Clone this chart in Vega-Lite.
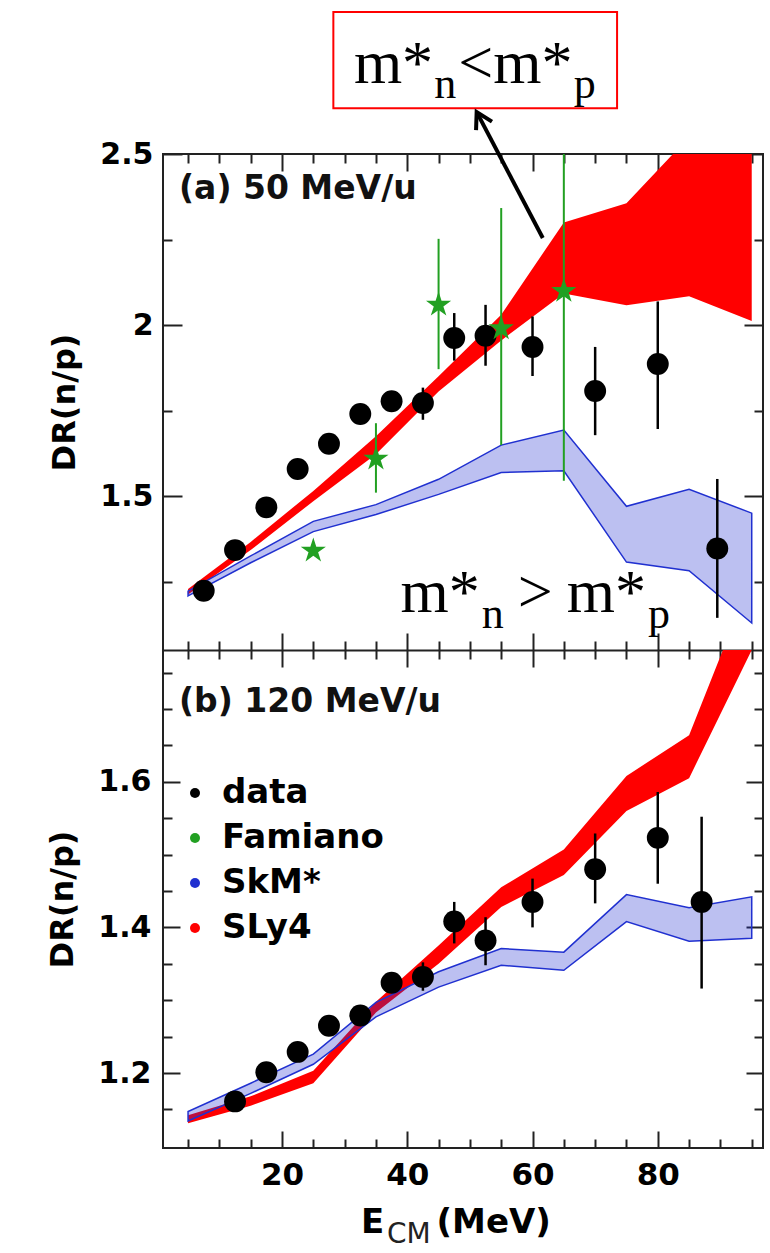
{
  "$schema": "https://vega.github.io/schema/vega-lite/v6.json",
  "background": "white",
  "autosize": {"type": "none"},
  "padding": {"left": 163, "top": 154, "right": 7, "bottom": 105},
  "width": 600,
  "height": 994,
  "config": {
    "view": {"stroke": "#222222", "strokeWidth": 2},
    "axis": {
      "domain": false, "grid": false, "tickColor": "#222222", "tickWidth": 2,
      "labelFont": "DejaVu Sans", "labelFontWeight": "bold", "labelFontSize": 30, "labelColor": "black",
      "labelOverlap": false, "labelFlush": false, "labelBound": false,
      "titleFont": "DejaVu Sans", "titleFontWeight": "bold", "titleFontSize": 32, "titleColor": "black"
    },
    "text": {"font": "DejaVu Sans"}
  },
  "datasets": {
    "dots50": [
      {"e": 7.5, "dr": 1.223, "lo": 1.213, "hi": 1.233},
      {"e": 12.5, "dr": 1.342, "lo": 1.332, "hi": 1.352},
      {"e": 17.5, "dr": 1.467, "lo": 1.455, "hi": 1.479},
      {"e": 22.5, "dr": 1.579, "lo": 1.566, "hi": 1.592},
      {"e": 27.5, "dr": 1.653, "lo": 1.64, "hi": 1.666},
      {"e": 32.5, "dr": 1.74, "lo": 1.726, "hi": 1.754},
      {"e": 37.5, "dr": 1.777, "lo": 1.746, "hi": 1.807},
      {"e": 42.5, "dr": 1.772, "lo": 1.723, "hi": 1.817},
      {"e": 47.5, "dr": 1.962, "lo": 1.896, "hi": 2.035},
      {"e": 52.5, "dr": 1.969, "lo": 1.881, "hi": 2.059},
      {"e": 60, "dr": 1.936, "lo": 1.851, "hi": 2.025},
      {"e": 70, "dr": 1.807, "lo": 1.678, "hi": 1.936},
      {"e": 80, "dr": 1.886, "lo": 1.696, "hi": 2.069},
      {"e": 89.5, "dr": 1.347, "lo": 1.144, "hi": 1.55}
    ],
    "fam50": [
      {"e": 25, "dr": 1.34, "lo": 1.33, "hi": 1.35},
      {"e": 35, "dr": 1.609, "lo": 1.51, "hi": 1.713},
      {"e": 45, "dr": 2.059, "lo": 1.871, "hi": 2.252},
      {"e": 55, "dr": 1.99, "lo": 1.649, "hi": 2.342},
      {"e": 65, "dr": 2.099, "lo": 1.545, "hi": 2.65}
    ],
    "sly50": [
      {"e": 5, "lo": 1.212, "hi": 1.228},
      {"e": 15, "lo": 1.342, "hi": 1.366},
      {"e": 25, "lo": 1.485, "hi": 1.515},
      {"e": 35, "lo": 1.622, "hi": 1.675},
      {"e": 45, "lo": 1.806, "hi": 1.85},
      {"e": 55, "lo": 1.955, "hi": 2.03},
      {"e": 65, "lo": 2.092, "hi": 2.3},
      {"e": 75, "lo": 2.058, "hi": 2.356},
      {"e": 85, "lo": 2.084, "hi": 2.55},
      {"e": 95, "lo": 2.012, "hi": 2.7}
    ],
    "skm50": [
      {"e": 5, "lo": 1.208, "hi": 1.222},
      {"e": 15, "lo": 1.305, "hi": 1.325},
      {"e": 25, "lo": 1.396, "hi": 1.426},
      {"e": 35, "lo": 1.446, "hi": 1.475},
      {"e": 45, "lo": 1.505, "hi": 1.549},
      {"e": 55, "lo": 1.569, "hi": 1.649},
      {"e": 65, "lo": 1.574, "hi": 1.693},
      {"e": 75, "lo": 1.307, "hi": 1.47},
      {"e": 85, "lo": 1.282, "hi": 1.52},
      {"e": 95, "lo": 1.129, "hi": 1.45}
    ],
    "dots120": [
      {"e": 12.5, "dr": 1.161, "lo": 1.155, "hi": 1.167},
      {"e": 17.5, "dr": 1.201, "lo": 1.195, "hi": 1.207},
      {"e": 22.5, "dr": 1.229, "lo": 1.223, "hi": 1.235},
      {"e": 27.5, "dr": 1.265, "lo": 1.259, "hi": 1.271},
      {"e": 32.5, "dr": 1.279, "lo": 1.273, "hi": 1.285},
      {"e": 37.5, "dr": 1.324, "lo": 1.31, "hi": 1.338},
      {"e": 42.5, "dr": 1.332, "lo": 1.313, "hi": 1.352},
      {"e": 47.5, "dr": 1.408, "lo": 1.378, "hi": 1.435},
      {"e": 52.5, "dr": 1.382, "lo": 1.348, "hi": 1.414},
      {"e": 60, "dr": 1.435, "lo": 1.4, "hi": 1.467},
      {"e": 70, "dr": 1.48, "lo": 1.433, "hi": 1.529},
      {"e": 80, "dr": 1.523, "lo": 1.46, "hi": 1.586},
      {"e": 87, "dr": 1.435, "lo": 1.316, "hi": 1.552}
    ],
    "sly120": [
      {"e": 5, "lo": 1.131, "hi": 1.142},
      {"e": 15, "lo": 1.155, "hi": 1.168},
      {"e": 25, "lo": 1.186, "hi": 1.203},
      {"e": 35, "lo": 1.283, "hi": 1.298},
      {"e": 45, "lo": 1.35, "hi": 1.375},
      {"e": 55, "lo": 1.428, "hi": 1.455},
      {"e": 65, "lo": 1.472, "hi": 1.507},
      {"e": 75, "lo": 1.56, "hi": 1.608},
      {"e": 85, "lo": 1.605, "hi": 1.664},
      {"e": 90.4, "lo": 1.7, "hi": 1.781},
      {"e": 95, "lo": 1.781, "hi": 1.781}
    ],
    "skm120": [
      {"e": 5, "lo": 1.134, "hi": 1.147},
      {"e": 15, "lo": 1.172, "hi": 1.186},
      {"e": 25, "lo": 1.212, "hi": 1.226},
      {"e": 35, "lo": 1.277, "hi": 1.297},
      {"e": 45, "lo": 1.318, "hi": 1.339},
      {"e": 55, "lo": 1.348, "hi": 1.371},
      {"e": 65, "lo": 1.341, "hi": 1.366},
      {"e": 75, "lo": 1.408, "hi": 1.445},
      {"e": 85, "lo": 1.381, "hi": 1.427},
      {"e": 95, "lo": 1.385, "hi": 1.442}
    ]
  },
  "resolve": {"scale": {"y": "independent"}, "axis": {"x": "independent", "y": "independent"}},
  "layer": [
    {
      "data": {"name": "sly50"},
      "mark": {"type": "area", "color": "#ff0000", "clip": true},
      "encoding": {
        "x": {"field": "e", "type": "quantitative",
          "scale": {"domain": [1, 96.8], "nice": false, "zero": false},
          "axis": {"orient": "bottom", "offset": -498, "values": [20, 40, 60, 80], "labels": false, "title": null, "tickSize": -17,
            "domain": true, "domainColor": "#222222", "domainWidth": 2}},
        "y": {"field": "lo", "type": "quantitative",
          "scale": {"domain": [1.05, 2.5], "range": [496, 0], "nice": false, "zero": false},
          "axis": {"orient": "left", "values": [1.5, 2, 2.5], "format": "~g", "labelPadding": 29, "tickSize": -19,
            "title": "DR(n/p)", "titlePadding": 18}},
        "y2": {"field": "hi"}
      }
    },
    {
      "data": {"name": "skm50"},
      "mark": {"type": "area", "fill": "#2030d0", "fillOpacity": 0.3, "stroke": "#2030d0", "strokeWidth": 1.5, "clip": true},
      "encoding": {
        "x": {"field": "e", "type": "quantitative",
          "axis": {"orient": "top", "values": [20, 40, 60, 80], "labels": false, "title": null, "tickSize": -17}},
        "y": {"field": "lo", "type": "quantitative",
          "scale": {"domain": [1.05, 2.5], "range": [496, 0], "nice": false, "zero": false},
          "axis": {"orient": "right", "values": [1.5, 2, 2.5], "labels": false, "title": null, "tickSize": -19}},
        "y2": {"field": "hi"}
      }
    },
    {
      "data": {"name": "dots50"},
      "mark": {"type": "rule", "color": "black", "strokeWidth": 2.5, "clip": true},
      "encoding": {
        "x": {"field": "e", "type": "quantitative",
          "axis": {"orient": "bottom", "offset": -498, "values": [5,10,15,25,30,35,45,50,55,65,70,75,85,90,95], "labels": false, "title": null, "tickSize": -9}},
        "y": {"field": "lo", "type": "quantitative",
          "scale": {"domain": [1.05, 2.5], "range": [496, 0], "nice": false, "zero": false},
          "axis": {"orient": "left", "values": [1.25, 1.75, 2.25], "labels": false, "title": null, "tickSize": -9}},
        "y2": {"field": "hi"}
      }
    },
    {
      "data": {"name": "dots50"},
      "mark": {"type": "point", "shape": "circle", "filled": true, "color": "black", "opacity": 1, "size": 480},
      "encoding": {
        "x": {"field": "e", "type": "quantitative",
          "axis": {"orient": "top", "values": [5,10,15,25,30,35,45,50,55,65,70,75,85,90,95], "labels": false, "title": null, "tickSize": -9}},
        "y": {"field": "dr", "type": "quantitative",
          "scale": {"domain": [1.05, 2.5], "range": [496, 0], "nice": false, "zero": false},
          "axis": {"orient": "right", "values": [1.25, 1.75, 2.25], "labels": false, "title": null, "tickSize": -9}}
      }
    },
    {
      "data": {"name": "sly120"},
      "mark": {"type": "area", "color": "#ff0000", "clip": true},
      "encoding": {
        "x": {"field": "e", "type": "quantitative",
          "axis": {"orient": "bottom", "values": [20, 40, 60, 80], "labelFontSize": 31, "labelPadding": 29, "title": null, "tickSize": -17}},
        "y": {"field": "lo", "type": "quantitative",
          "scale": {"domain": [1.097, 1.781], "range": [994, 496], "nice": false, "zero": false},
          "axis": {"orient": "left", "values": [1.2, 1.4, 1.6], "format": "~g", "labelPadding": 29, "tickSize": -17,
            "title": "DR(n/p)", "titlePadding": 18}},
        "y2": {"field": "hi"}
      }
    },
    {
      "data": {"name": "skm120"},
      "mark": {"type": "area", "fill": "#2030d0", "fillOpacity": 0.3, "stroke": "#2030d0", "strokeWidth": 1.5, "clip": true},
      "encoding": {
        "x": {"field": "e", "type": "quantitative",
          "axis": {"orient": "top", "offset": -496, "values": [20, 40, 60, 80], "labels": false, "title": null, "tickSize": -17}},
        "y": {"field": "lo", "type": "quantitative",
          "scale": {"domain": [1.097, 1.781], "range": [994, 496], "nice": false, "zero": false},
          "axis": {"orient": "right", "values": [1.2, 1.4, 1.6], "labels": false, "title": null, "tickSize": -17}},
        "y2": {"field": "hi"}
      }
    },
    {
      "data": {"name": "dots120"},
      "mark": {"type": "rule", "color": "black", "strokeWidth": 2.5, "clip": true},
      "encoding": {
        "x": {"field": "e", "type": "quantitative",
          "axis": {"orient": "bottom", "values": [5,10,15,25,30,35,45,50,55,65,70,75,85,90,95], "labels": false, "title": null, "tickSize": -9}},
        "y": {"field": "lo", "type": "quantitative",
          "scale": {"domain": [1.097, 1.781], "range": [994, 496], "nice": false, "zero": false},
          "axis": {"orient": "left", "values": [1.15,1.25,1.3,1.35,1.45,1.5,1.55,1.65,1.7,1.75], "labels": false, "title": null, "tickSize": -9}},
        "y2": {"field": "hi"}
      }
    },
    {
      "data": {"name": "dots120"},
      "mark": {"type": "point", "shape": "circle", "filled": true, "opacity": 1, "size": 480},
      "encoding": {
        "x": {"field": "e", "type": "quantitative",
          "axis": {"orient": "top", "offset": -496, "values": [5,10,15,25,30,35,45,50,55,65,70,75,85,90,95], "labels": false, "title": null, "tickSize": -9}},
        "y": {"field": "dr", "type": "quantitative",
          "scale": {"domain": [1.097, 1.781], "range": [994, 496], "nice": false, "zero": false},
          "axis": {"orient": "right", "values": [1.15,1.25,1.3,1.35,1.45,1.5,1.55,1.65,1.7,1.75], "labels": false, "title": null, "tickSize": -9}},
        "color": {"datum": "data", "type": "nominal",
          "scale": {"domain": ["data", "Famiano", "SkM*", "SLy4"], "range": ["#000000", "#22a022", "#2030d0", "#ff0000"]},
          "legend": {
            "title": null, "orient": "none", "legendX": 15, "legendY": 622, "direction": "vertical",
            "labelFont": "DejaVu Sans", "labelFontWeight": "bold", "labelFontSize": 34, "labelColor": "black",
            "labelLimit": 0, "labelOffset": 10, "rowPadding": 11, "symbolStrokeWidth": 2,
            "encode": {
              "symbols": {"update": {
                "shape": {"signal": "datum.value === 'Famiano' ? 'M0,-1L0.2245,-0.309L0.951,-0.309L0.363,0.118L0.588,0.809L0,0.382L-0.588,0.809L-0.363,0.118L-0.951,-0.309L-0.2245,-0.309Z' : datum.value === 'data' ? 'circle' : 'square'"},
                "size": {"signal": "datum.value === 'data' ? 520 : datum.value === 'Famiano' ? 620 : 760"},
                "fill": {"signal": "datum.value === 'data' ? '#000000' : datum.value === 'Famiano' ? '#22a022' : datum.value === 'SkM*' ? '#b9bdee' : '#ff0000'"},
                "stroke": {"signal": "datum.value === 'SkM*' ? '#2030d0' : 'transparent'"},
                "opacity": {"value": 1},
                "fillOpacity": {"value": 1}
              }}
            }
          }}
      }
    },
    {
      "data": {"name": "fam50"},
      "mark": {"type": "rule", "color": "#22a022", "strokeWidth": 2, "clip": true},
      "encoding": {
        "x": {"field": "e", "type": "quantitative", "axis": null},
        "y": {"field": "lo", "type": "quantitative", "scale": {"domain": [1.05, 2.5], "range": [496, 0], "nice": false, "zero": false}, "axis": null},
        "y2": {"field": "hi"}
      }
    },
    {
      "data": {"name": "fam50"},
      "mark": {"type": "point", "shape": "M0,-1L0.2245,-0.309L0.951,-0.309L0.363,0.118L0.588,0.809L0,0.382L-0.588,0.809L-0.363,0.118L-0.951,-0.309L-0.2245,-0.309Z", "filled": true, "color": "#22a022", "opacity": 1, "size": 700},
      "encoding": {
        "x": {"field": "e", "type": "quantitative", "axis": null},
        "y": {"field": "dr", "type": "quantitative", "scale": {"domain": [1.05, 2.5], "range": [496, 0], "nice": false, "zero": false}, "axis": null}
      }
    },
    {
      "data": {"values": [{}]},
      "mark": {"type": "text", "text": "(a) 50 MeV/u", "font": "DejaVu Sans", "fontWeight": "bold", "fontSize": 33, "align": "left", "baseline": "alphabetic", "color": "#111111"},
      "encoding": {
        "x": {"datum": 3.56, "type": "quantitative", "axis": null},
        "y": {"datum": 2.367, "type": "quantitative", "scale": {"domain": [1.05, 2.5], "range": [496, 0], "nice": false, "zero": false}, "axis": null}
      }
    },
    {
      "data": {"values": [{}]},
      "mark": {"type": "rect", "fillOpacity": 0, "stroke": "#ff0000", "strokeWidth": 2},
      "encoding": {
        "x": {"datum": 28.2, "type": "quantitative", "axis": null},
        "x2": {"datum": 73.5},
        "y": {"datum": 2.634, "type": "quantitative", "scale": {"domain": [1.05, 2.5], "range": [496, 0], "nice": false, "zero": false}, "axis": null},
        "y2": {"datum": 2.915}
      }
    },
    {
      "data": {"values": [{}]},
      "mark": {"type": "text", "text": "m*", "font": "Liberation Serif", "fontSize": 62, "align": "left", "baseline": "alphabetic", "color": "black"},
      "encoding": {
        "x": {"datum": 31.48, "type": "quantitative", "axis": null},
        "y": {"datum": 2.7076, "type": "quantitative", "scale": {"domain": [1.05, 2.5], "range": [496, 0], "nice": false, "zero": false}, "axis": null}
      }
    },
    {
      "data": {"values": [{}]},
      "mark": {"type": "text", "text": "n", "font": "Liberation Serif", "fontSize": 44, "align": "left", "baseline": "alphabetic", "color": "black"},
      "encoding": {
        "x": {"datum": 44.31, "type": "quantitative", "axis": null},
        "y": {"datum": 2.6637, "type": "quantitative", "scale": {"domain": [1.05, 2.5], "range": [496, 0], "nice": false, "zero": false}, "axis": null}
      }
    },
    {
      "data": {"values": [{}]},
      "mark": {"type": "text", "text": "<m*", "font": "Liberation Serif", "fontSize": 62, "align": "left", "baseline": "alphabetic", "color": "black"},
      "encoding": {
        "x": {"datum": 48.15, "type": "quantitative", "axis": null},
        "y": {"datum": 2.7076, "type": "quantitative", "scale": {"domain": [1.05, 2.5], "range": [496, 0], "nice": false, "zero": false}, "axis": null}
      }
    },
    {
      "data": {"values": [{}]},
      "mark": {"type": "text", "text": "p", "font": "Liberation Serif", "fontSize": 44, "align": "left", "baseline": "alphabetic", "color": "black"},
      "encoding": {
        "x": {"datum": 66.58, "type": "quantitative", "axis": null},
        "y": {"datum": 2.6637, "type": "quantitative", "scale": {"domain": [1.05, 2.5], "range": [496, 0], "nice": false, "zero": false}, "axis": null}
      }
    },
    {
      "data": {"values": [{}]},
      "mark": {"type": "rule", "color": "black", "strokeWidth": 4},
      "encoding": {
        "x": {"datum": 61.64, "type": "quantitative", "axis": null},
        "x2": {"datum": 51.3},
        "y": {"datum": 2.2544, "type": "quantitative", "scale": {"domain": [1.05, 2.5], "range": [496, 0], "nice": false, "zero": false}, "axis": null},
        "y2": {"datum": 2.615}
      }
    },
    {
      "data": {"values": [{}]},
      "mark": {"type": "point", "shape": "M -0.5 0.87 L 0 0 L 0.5 0.87", "filled": false, "stroke": "black", "strokeWidth": 4, "opacity": 1, "size": 1300, "angle": 332},
      "encoding": {
        "x": {"datum": 51.08, "type": "quantitative", "axis": null},
        "y": {"datum": 2.6228, "type": "quantitative", "scale": {"domain": [1.05, 2.5], "range": [496, 0], "nice": false, "zero": false}, "axis": null}
      }
    },
    {
      "data": {"values": [{}]},
      "mark": {"type": "text", "text": "m*", "font": "Liberation Serif", "fontSize": 62, "align": "left", "baseline": "alphabetic", "color": "black"},
      "encoding": {
        "x": {"datum": 38.92, "type": "quantitative", "axis": null},
        "y": {"datum": 1.1608, "type": "quantitative", "scale": {"domain": [1.05, 2.5], "range": [496, 0], "nice": false, "zero": false}, "axis": null}
      }
    },
    {
      "data": {"values": [{}]},
      "mark": {"type": "text", "text": "n", "font": "Liberation Serif", "fontSize": 44, "align": "left", "baseline": "alphabetic", "color": "black"},
      "encoding": {
        "x": {"datum": 51.88, "type": "quantitative", "axis": null},
        "y": {"datum": 1.114, "type": "quantitative", "scale": {"domain": [1.05, 2.5], "range": [496, 0], "nice": false, "zero": false}, "axis": null}
      }
    },
    {
      "data": {"values": [{}]},
      "mark": {"type": "text", "text": ">", "font": "Liberation Serif", "fontSize": 62, "align": "left", "baseline": "alphabetic", "color": "black"},
      "encoding": {
        "x": {"datum": 57.64, "type": "quantitative", "axis": null},
        "y": {"datum": 1.1608, "type": "quantitative", "scale": {"domain": [1.05, 2.5], "range": [496, 0], "nice": false, "zero": false}, "axis": null}
      }
    },
    {
      "data": {"values": [{}]},
      "mark": {"type": "text", "text": "m*", "font": "Liberation Serif", "fontSize": 62, "align": "left", "baseline": "alphabetic", "color": "black"},
      "encoding": {
        "x": {"datum": 65.48, "type": "quantitative", "axis": null},
        "y": {"datum": 1.1608, "type": "quantitative", "scale": {"domain": [1.05, 2.5], "range": [496, 0], "nice": false, "zero": false}, "axis": null}
      }
    },
    {
      "data": {"values": [{}]},
      "mark": {"type": "text", "text": "p", "font": "Liberation Serif", "fontSize": 44, "align": "left", "baseline": "alphabetic", "color": "black"},
      "encoding": {
        "x": {"datum": 78.44, "type": "quantitative", "axis": null},
        "y": {"datum": 1.114, "type": "quantitative", "scale": {"domain": [1.05, 2.5], "range": [496, 0], "nice": false, "zero": false}, "axis": null}
      }
    },
    {
      "data": {"values": [{}]},
      "mark": {"type": "text", "text": "(b) 120 MeV/u", "font": "DejaVu Sans", "fontWeight": "bold", "fontSize": 33, "align": "left", "baseline": "alphabetic", "color": "#111111"},
      "encoding": {
        "x": {"datum": 3.56, "type": "quantitative", "axis": null},
        "y": {"datum": 1.6962, "type": "quantitative", "scale": {"domain": [1.097, 1.781], "range": [994, 496], "nice": false, "zero": false}, "axis": null}
      }
    },
    {
      "data": {"values": [{}]},
      "mark": {"type": "text", "text": "E", "font": "DejaVu Sans", "fontWeight": "bold", "fontSize": 34, "align": "left", "baseline": "alphabetic", "color": "black"},
      "encoding": {
        "x": {"datum": 32.63, "type": "quantitative", "axis": null},
        "y": {"datum": 0.9796, "type": "quantitative", "scale": {"domain": [1.097, 1.781], "range": [994, 496], "nice": false, "zero": false}, "axis": null}
      }
    },
    {
      "data": {"values": [{}]},
      "mark": {"type": "text", "text": "CM", "font": "DejaVu Sans", "fontSize": 28, "align": "left", "baseline": "alphabetic", "color": "#222222"},
      "encoding": {
        "x": {"datum": 36.76, "type": "quantitative", "axis": null},
        "y": {"datum": 0.9659, "type": "quantitative", "scale": {"domain": [1.097, 1.781], "range": [994, 496], "nice": false, "zero": false}, "axis": null}
      }
    },
    {
      "data": {"values": [{}]},
      "mark": {"type": "text", "text": "(MeV)", "font": "DejaVu Sans", "fontWeight": "bold", "fontSize": 34, "align": "left", "baseline": "alphabetic", "color": "black"},
      "encoding": {
        "x": {"datum": 44.68, "type": "quantitative", "axis": null},
        "y": {"datum": 0.9796, "type": "quantitative", "scale": {"domain": [1.097, 1.781], "range": [994, 496], "nice": false, "zero": false}, "axis": null}
      }
    }
  ]
}
